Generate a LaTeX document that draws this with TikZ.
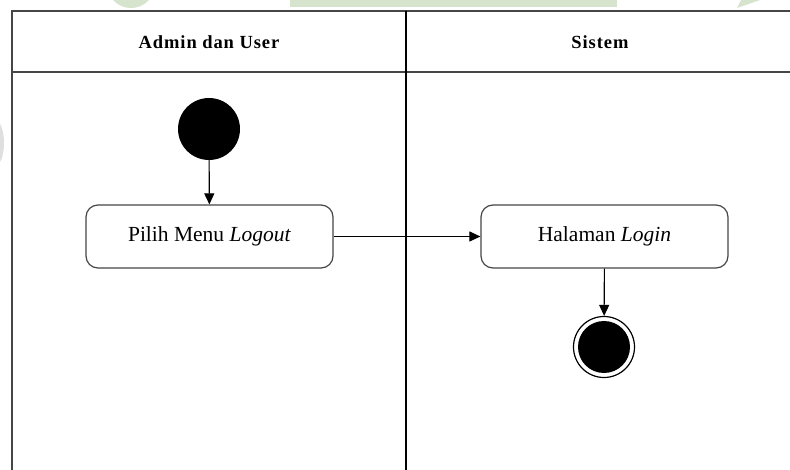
\documentclass[tikz,border=0pt]{standalone}
\usepackage{fontspec}
\setmainfont{Liberation Serif}
\usetikzlibrary{arrows.meta}
\definecolor{markgreen}{RGB}{214,227,205}
\definecolor{framegray}{RGB}{70,70,70}
\tikzset{
  lane/.style={draw=framegray, line width=1.6pt},
  divider/.style={draw=black, line width=1.8pt},
  lanehead/.style={font=\bfseries\fontsize{18.5}{22}\selectfont\addfontfeature{LetterSpace=5}},
  action/.style={draw=framegray, line width=1.2pt, rounded corners=12pt,
    minimum width=247pt, minimum height=63pt, inner sep=0pt,
    font=\fontsize{21.5}{24}\selectfont},
  startnode/.style={circle, fill=black, minimum size=62pt, inner sep=0pt},
  endnode/.style={circle, draw=black, line width=1.2pt, fill=white,
    minimum size=61pt, inner sep=0pt, path picture={
      \fill[black] (path picture bounding box.center) circle (26pt);}},
  flow/.style={draw=black, line width=1.1pt, -{Triangle[length=11pt,width=10pt]}}
}
\begin{document}
\begin{tikzpicture}[x=1pt,y=-1pt]
  \useasboundingbox (0,0) rectangle (790,470);
  \fill[white] (0,0) rectangle (790,470);

  % faint marks along the top and left edges
  \begin{scope}
    \clip (0,0) rectangle (790,470);
    \fill[markgreen] (131,-16) circle (24);
    \fill[markgreen] (290,0) rectangle (617,7);
    \fill[markgreen] (737,8) -- (741,0) -- (760,0) -- cycle;
    \fill[gray!25] (-4,143) ellipse (8 and 22);
  \end{scope}

  % swimlane frame
  \draw[lane] (12,470) -- (12,11) -- (792,11);
  \draw[lane] (12,72) -- (792,72);
  \draw[divider] (406,11) -- (406,470);

  % lane headers
  \node[lanehead] (hadmin) at (209,42) {Admin dan User};
  \node[lanehead] (hsys) at (600,42) {Sistem};

  % activities
  \node[startnode] (start) at (209,129) {};
  \node[action] (pilih) at (209.5,236.5) {Pilih Menu \textit{Logout}};
  \node[action] (login) at (604.5,236.5) {Halaman \textit{Login}};
  \node[endnode] (end) at (604,347) {};

  % transitions
  \draw[flow] (start) -- (pilih);
  \draw[flow] (pilih) -- (login);
  \draw[flow] (login) -- (end);
\end{tikzpicture}
\end{document}
